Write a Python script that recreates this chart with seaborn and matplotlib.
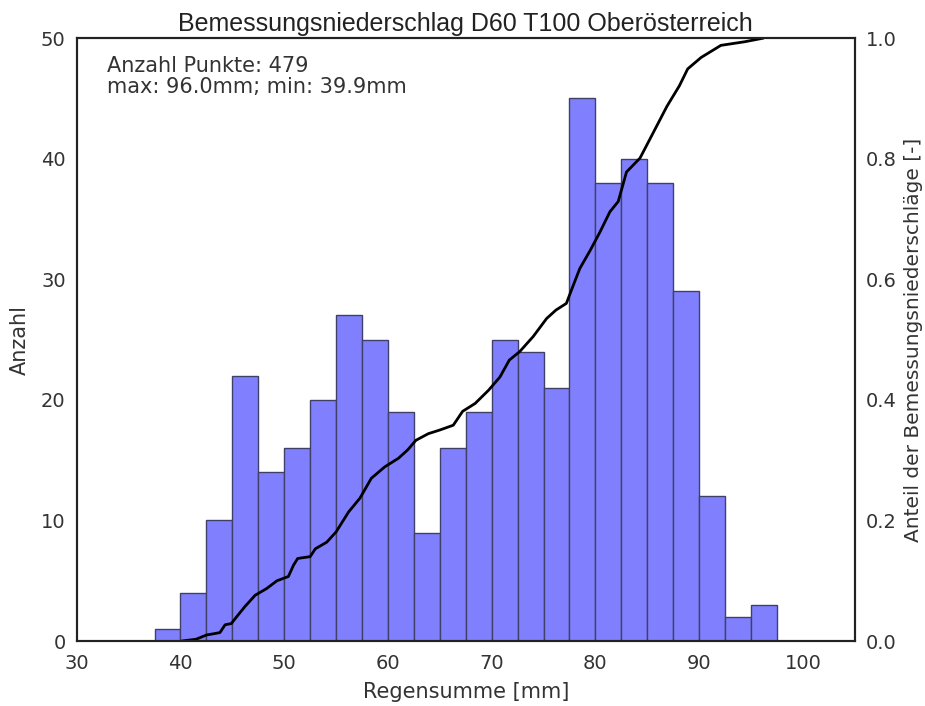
import numpy as np
import matplotlib
matplotlib.use('Agg')
import matplotlib.pyplot as plt
import seaborn as sns

# Histogramm-Daten (Klassenbreite 2.5 mm)
bin_edges = [37.5, 40, 42.5, 45, 47.5, 50, 52.5, 55, 57.5, 60, 62.5, 65, 67.5,
             70, 72.5, 75, 77.5, 80, 82.5, 85, 87.5, 90, 92.5, 95, 97.5]
counts = [1, 4, 10, 22, 14, 16, 20, 27, 25, 19, 9, 16, 19,
          25, 24, 21, 45, 38, 40, 38, 29, 12, 2, 3]

# Summenkurve
cdf_x = [40.1, 41.5, 42.5, 43.8, 44.3, 44.9, 45.4, 46.2, 47.2, 48.3, 49.3, 50.4,
         50.9, 51.3, 52.5, 53.0, 54.1, 55.0, 56.2, 57.3, 58.4, 59.7, 61.0, 61.9,
         62.7, 63.9, 65.0, 66.3, 67.2, 68.4, 69.7, 70.8, 71.7, 72.7, 74.0, 75.3,
         76.2, 77.2, 77.8, 78.5, 79.5, 80.4, 81.4, 82.2, 83.0, 84.3, 85.3, 86.9,
         88.1, 88.9, 90.2, 92.1, 94.4, 96.2]
cdf_y = [0.0, 0.003, 0.010, 0.014, 0.027, 0.029, 0.040, 0.057, 0.076, 0.087, 0.100, 0.107,
         0.126, 0.137, 0.140, 0.153, 0.164, 0.181, 0.214, 0.237, 0.270, 0.289, 0.303, 0.317,
         0.333, 0.344, 0.350, 0.358, 0.381, 0.394, 0.416, 0.438, 0.466, 0.480, 0.505, 0.535,
         0.549, 0.560, 0.587, 0.618, 0.648, 0.677, 0.712, 0.729, 0.778, 0.801, 0.834, 0.887,
         0.921, 0.949, 0.968, 0.988, 0.994, 1.0]

n_punkte = 479
p_max = 96.0
p_min = 39.9

sns.set_style('white')
plt.rcParams['font.family'] = ['DejaVu Sans']
txt_col = '#333333'

centers = [(a + b) / 2 for a, b in zip(bin_edges[:-1], bin_edges[1:])]

fig = plt.figure(figsize=(9.25, 7.06), dpi=100)
ax = fig.add_axes([0.083, 0.092, 0.841, 0.854])
sns.histplot(x=centers, weights=counts, bins=bin_edges, ax=ax,
             color=(0.5, 0.5, 1.0), alpha=1.0, edgecolor=(0.25, 0.25, 0.4), linewidth=1)
ax.set_xlim(30, 105)
ax.set_ylim(0, 50)
ax.set_xticks(range(30, 101, 10))
ax.set_yticks(range(0, 51, 10))
ax.set_xlabel('Regensumme [mm]', fontsize=15, color=txt_col, labelpad=7)
ax.set_ylabel('Anzahl', fontsize=15, color=txt_col, labelpad=8)
ax.tick_params(labelsize=14, colors=txt_col, length=0)
ax.tick_params(axis='x', pad=9)
ax.tick_params(axis='y', pad=8)
for s in ax.spines.values():
    s.set_color('#222222')
    s.set_linewidth(1.5)

ax.text(0.039, 0.97, f'Anzahl Punkte: {n_punkte}\nmax: {p_max:.1f}mm; min: {p_min:.1f}mm',
        transform=ax.transAxes, va='top', ha='left', fontsize=15, color=txt_col,
        linespacing=1.05)

ax2 = ax.twinx()
sns.lineplot(x=cdf_x, y=cdf_y, ax=ax2, color='black', linewidth=2)
ax2.set_ylim(0, 1.0)
ax2.set_yticks(np.arange(0, 1.01, 0.2))
ax2.set_yticklabels([f'{v:.1f}' for v in np.arange(0, 1.01, 0.2)])
ax2.set_ylabel('Anteil der Bemessungsniederschläge [-]', fontsize=14.5, color=txt_col, labelpad=5)
ax2.tick_params(labelsize=14, colors=txt_col, length=0, pad=8)
for s in ax2.spines.values():
    s.set_color('#222222')
    s.set_linewidth(1.5)

ax.set_title('Bemessungsniederschlag D60 T100 Oberösterreich', fontsize=18,
             family='Liberation Sans', color='#222222', pad=5)

fig.savefig('out.png', dpi=100)
